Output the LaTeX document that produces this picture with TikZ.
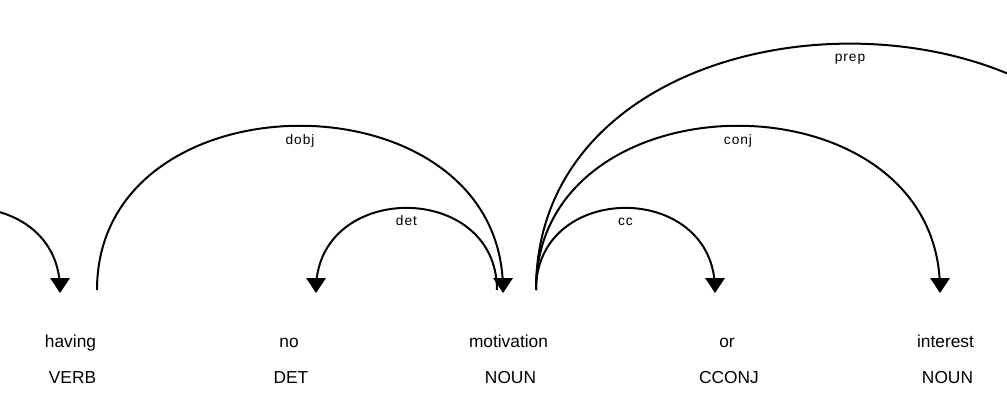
\documentclass[tikz,border=0pt]{standalone}
\usepackage{fontspec}
\setmainfont{Liberation Sans}
\newfontfamily\labelfont[LetterSpace=7]{Liberation Sans}
\begin{document}
\begin{tikzpicture}[x=0.75pt,y=-0.75pt,
  word/.style={inner sep=0pt,anchor=base,font=\fontsize{13}{15}\selectfont},
  tag/.style={inner sep=0pt,anchor=base,font=\fontsize{13}{15}\selectfont},
  deplabel/.style={inner sep=0pt,anchor=base,font=\labelfont\fontsize{10.3}{12}\selectfont},
  arc/.style={line width=1.5pt},
  head/.style={fill=black}]
\useasboundingbox (0,0) rectangle (1007,406);
\clip (0,0) rectangle (1007,406);
% words
\node[word] (w1) at (70.5,347) {having};
\node[tag]  (t1) at (72.5,383) {VERB};
\node[word] (w2) at (289,347) {no};
\node[tag]  (t2) at (291,383) {DET};
\node[word] (w3) at (508.5,347) {motivation};
\node[tag]  (t3) at (510.5,383) {NOUN};
\node[word] (w4) at (727,347) {or};
\node[tag]  (t4) at (729,383) {CCONJ};
\node[word] (w5) at (945.5,347) {interest};
\node[tag]  (t5) at (947.5,383) {NOUN};
% arc end points
\coordinate (p0s) at (-121.5,290);
\coordinate (p1e) at (60,290);
\coordinate (p1s) at (97,290);
\coordinate (p2s) at (316,290);
\coordinate (p3a) at (497,290);
\coordinate (p3b) at (503,290);
\coordinate (p3s) at (536,290);
\coordinate (p4e) at (715,290);
\coordinate (p5e) at (940,290);
\coordinate (p6e) at (1164,290);
% arcs
\draw[arc] (p0s) .. controls (-121.5,180.5) and (60,180.5) .. (p1e);
\draw[arc] (p1s) .. controls (97,71) and (503,71) .. (p3b);
\draw[arc] (p2s) .. controls (316,180.5) and (497,180.5) .. (p3a);
\draw[arc] (p3s) .. controls (536,180.5) and (715,180.5) .. (p4e);
\draw[arc] (p3s) .. controls (536,71) and (940,71) .. (p5e);
\draw[arc] (p3s) .. controls (536,-38.5) and (1164,-38.5) .. (p6e);
% arrowheads
\fill[head] ([shift={(-10,-12)}]p1e) -- ([shift={(10,-12)}]p1e) -- ([shift={(0,3)}]p1e) -- cycle;
\fill[head] ([shift={(-10,-12)}]p3b) -- ([shift={(10,-12)}]p3b) -- ([shift={(0,3)}]p3b) -- cycle;
\fill[head] ([shift={(-10,-12)}]p2s) -- ([shift={(10,-12)}]p2s) -- ([shift={(0,3)}]p2s) -- cycle;
\fill[head] ([shift={(-10,-12)}]p4e) -- ([shift={(10,-12)}]p4e) -- ([shift={(0,3)}]p4e) -- cycle;
\fill[head] ([shift={(-10,-12)}]p5e) -- ([shift={(10,-12)}]p5e) -- ([shift={(0,3)}]p5e) -- cycle;
% labels
\node[deplabel] (l1) at (300,145) {dobj};
\node[deplabel] (l2) at (406.5,226) {det};
\node[deplabel] (l3) at (625.5,226) {cc};
\node[deplabel] (l4) at (738,145) {conj};
\node[deplabel] (l5) at (850,62) {prep};
\end{tikzpicture}
\end{document}
